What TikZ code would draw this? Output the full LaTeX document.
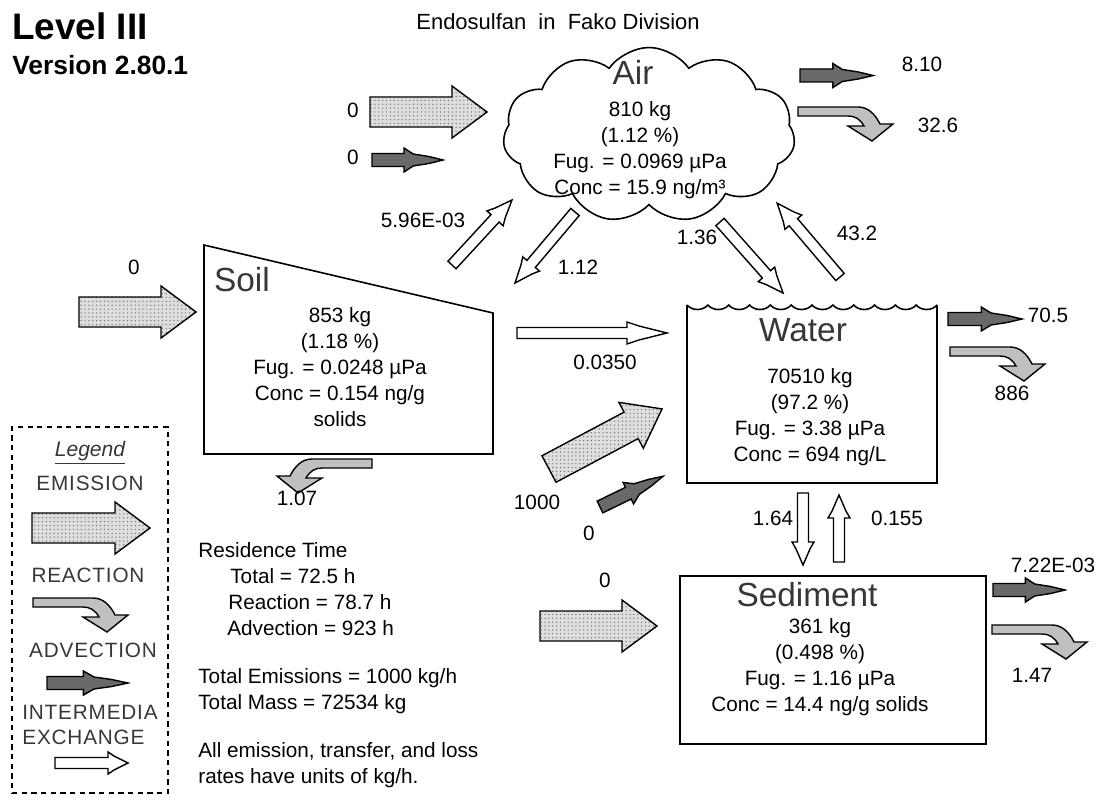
\documentclass[tikz,border=0pt]{standalone}
\usepackage{fontspec}
\setmainfont{Liberation Sans}
\newfontfamily\legendfont[LetterSpace=4]{Liberation Sans}
\usetikzlibrary{shapes.symbols,patterns.meta}
\definecolor{emisgray}{RGB}{222,222,222}
\definecolor{dotgray}{RGB}{110,110,110}
\definecolor{reactgray}{RGB}{192,192,192}
\definecolor{advgray}{RGB}{105,105,105}
\definecolor{ttlgray}{RGB}{55,55,55}
\newcommand\valfont{\fontsize{11.8}{14.8}\selectfont}
\newcommand\ttlfont{\fontsize{19}{22}\selectfont}
\tikzset{
  outline/.style={draw=black,line width=0.9pt},
  cmpt/.style={inner sep=0pt,outer sep=0pt},
  ctitle/.style={font=\ttlfont,text=ttlgray,inner sep=0pt},
  ctext/.style={font=\valfont,align=center,inner sep=0pt},
  val/.style={font=\valfont,inner sep=1pt},
  key/.style={font=\legendfont\fontsize{11.8}{14}\selectfont,text=ttlgray,inner sep=0pt},
  emisfill/.style={draw=black,line width=0.8pt,preaction={fill=emisgray},pattern={Dots[distance=2.2pt,radius=0.4pt]},pattern color=dotgray},
  reactfill/.style={draw=black,line width=0.8pt,fill=reactgray},
  advfill/.style={draw=black,line width=0.8pt,fill=advgray},
  xchgfill/.style={draw=black,line width=0.8pt,fill=white},
  pics/emisarrow/.style={code={
    \draw[emisfill] (0,-15) -- (#1-35,-15) -- (#1-35,-26) -- (#1,0) -- (#1-35,26) -- (#1-35,15) -- (0,15) -- cycle;
  }},
  pics/reactarrow/.style={code={
    \draw[reactfill] (0,0) -- (60,0) .. controls (70,0) and (77,7) .. (82,17) -- (95,17) -- (74,34) -- (50,19) -- (66,19) .. controls (62,12) and (57,9) .. (50,9) -- (0,9) -- cycle;
  }},
  pics/advarrow/.style={code={
    \draw[advfill] (0,-6.5) -- (0.45*#1,-6.5) -- (0.45*#1,-12) -- (0.58*#1,-6) -- (0.8*#1,-3.5) -- (#1,0) -- (0.8*#1,3.5) -- (0.58*#1,6) -- (0.45*#1,12) -- (0.45*#1,6.5) -- (0,6.5) -- cycle;
  }},
  pics/xchg/.style 2 args={code={
    \draw[xchgfill] (0,-5.5) -- (#1-#2,-5.5) -- (#1-#2,-11) -- (#1-0.7*#2,-7) -- (#1,0) -- (#1-0.7*#2,7) -- (#1-#2,11) -- (#1-#2,5.5) -- (0,5.5) -- cycle;
  }}
}
\begin{document}
\begin{tikzpicture}[x=0.02cm,y=-0.02cm]
\useasboundingbox (0,0) rectangle (1097,800);
% headings
\node[font=\bfseries\fontsize{21}{24}\selectfont,anchor=west,inner sep=0pt] (level) at (12,26) {Level III};
\node[font=\bfseries\fontsize{15}{18}\selectfont,anchor=west,inner sep=0pt] (version) at (12,65) {Version 2.80.1};
\node[font=\fontsize{12.5}{15}\selectfont,inner sep=0pt] (chem) at (558,22) {Endosulfan\ \ in\ \ Fako Division};
% compartments
\node[cmpt,cloud,cloud puffs=11,cloud puff arc=110,aspect=1.67,outline,minimum width=5.84cm,minimum height=3.5cm] (air) at (649,135) {};
\node[cmpt,minimum width=5.78cm,minimum height=4.18cm] (soil) at (348.5,349.5) {};
\draw[outline] (soil.north west) -- ([yshift=-1.36cm]soil.north east) -- (soil.south east) -- (soil.south west) -- cycle;
\node[cmpt,minimum width=5cm,minimum height=3.56cm] (water) at (812,394) {};
\draw[outline] (water.north west) -- (water.south west) -- (water.south east) -- (water.north east);
\draw[outline] (water.north west) foreach \k in {1,...,12}{ .. controls +(5.2,6) and +(-5.2,6) .. ++(20.833,0)};
\node[cmpt,outline,minimum width=6.12cm,minimum height=3.36cm] (sed) at (833,660) {};
\node[cmpt,draw=black,line width=0.8pt,dash pattern=on 3pt off 2.5pt,minimum width=3.12cm,minimum height=7.32cm] (legend) at (90,610) {};
% compartment texts
\node[ctitle] (airttl) at (633,72) {Air};
\node[ctext] (airtxt) at (640,150) {810 kg\\(1.12 \%)\\Fug. = 0.0969 µPa\\Conc = 15.9 ng/m³};
\node[ctitle] (soilttl) at (242,280) {Soil};
\node[ctext] (soiltxt) at (340,367) {853 kg\\(1.18 \%)\\Fug. = 0.0248 µPa\\Conc = 0.154 ng/g\\solids};
\node[ctitle] (waterttl) at (803,330) {Water};
\node[ctext] (watertxt) at (810,417) {70510 kg\\(97.2 \%)\\Fug. = 3.38 µPa\\Conc = 694 ng/L};
\node[ctitle] (sedttl) at (807,595) {Sediment};
\node[ctext] (sedtxt) at (820,667) {361 kg\\(0.498 \%)\\Fug. = 1.16 µPa\\Conc = 14.4 ng/g solids};
% emissions
\pic at (370,112) {emisarrow=117};
\pic at (79,312) {emisarrow=117};
\pic[rotate=28] at (549,469) {emisarrow=128};
\pic at (540,626) {emisarrow=117};
% advection
\pic at (372,160) {advarrow=71};
\pic at (800,75.5) {advarrow=73};
\pic at (948,319) {advarrow=74};
\pic[rotate=26] at (600,507) {advarrow=70};
\pic at (993,590) {advarrow=72};
% reaction
\pic at (798,107) {reactarrow};
\pic at (950,347) {reactarrow};
\pic at (992,625) {reactarrow};
\pic[xscale=-1] at (372,459) {reactarrow};
% intermedia exchange
\pic[rotate=47.3] at (452,265) {xchg={88.5}{25}};
\pic[rotate=-130.2] at (575,212) {xchg={93}{25}};
\pic[rotate=-48.4] at (720,222) {xchg={95}{25}};
\pic[rotate=130.4] at (840,277) {xchg={97}{25}};
\pic at (517,333) {xchg={150}{40}};
\pic[rotate=-90] at (803,493) {xchg={72}{23}};
\pic[rotate=90] at (839,562) {xchg={67}{23}};
% rates
\node[val] (eair) at (353,110) {0};
\node[val] (aair) at (353,157) {0};
\node[val] (aairout) at (922,64) {8.10};
\node[val] (rair) at (938,125) {32.6};
\node[val] (soilair) at (423,220) {5.96E-03};
\node[val] (airsoil) at (578,267) {1.12};
\node[val] (airwater) at (697,237) {1.36};
\node[val] (waterair) at (857,233) {43.2};
\node[val] (esoil) at (134,267) {0};
\node[val] (soilwater) at (605,362) {0.0350};
\node[val] (rsoil) at (297,498) {1.07};
\node[val] (ewater) at (537,502) {1000};
\node[val] (awater) at (589,533) {0};
\node[val] (awaterout) at (1048,315) {70.5};
\node[val] (rwater) at (1012,393) {886};
\node[val] (watersed) at (773,518) {1.64};
\node[val] (sedwater) at (897,518) {0.155};
\node[val] (esed) at (605,580) {0};
\node[val] (asedout) at (1053,565) {7.22E-03};
\node[val] (rsed) at (1032,675) {1.47};
% summary
\node[font=\valfont,align=left,anchor=north west,inner sep=0pt] (restime) at (198,542) {Residence Time\\\hspace*{0.64cm}Total = 72.5 h\\\hspace*{0.6cm}Reaction = 78.7 h\\\hspace*{0.58cm}Advection = 923 h};
\node[font=\valfont,align=left,anchor=north west,inner sep=0pt] (totals) at (198,668) {Total Emissions = 1000 kg/h\\Total Mass = 72534 kg};
\node[font=\valfont,align=left,anchor=north west,inner sep=0pt] (units) at (198,742) {All emission, transfer, and loss\\rates have units of kg/h.};
% legend
\node[font=\itshape\fontsize{12}{14}\selectfont,text=ttlgray,inner sep=0pt] (legttl) at (90,453) {\underline{Legend}};
\node[key] (kemis) at (90,483) {EMISSION};
\pic at (32,528) {emisarrow=118};
\node[key] (kreact) at (88,575) {REACTION};
\pic at (33,598) {reactarrow};
\node[key] (kadv) at (93,650) {ADVECTION};
\pic at (47,683) {advarrow=81};
\node[key,align=left] (kxchg) at (90,725) {INTERMEDIA\\EXCHANGE};
\pic at (55,763) {xchg={73}{20}};
\end{tikzpicture}
\end{document}
